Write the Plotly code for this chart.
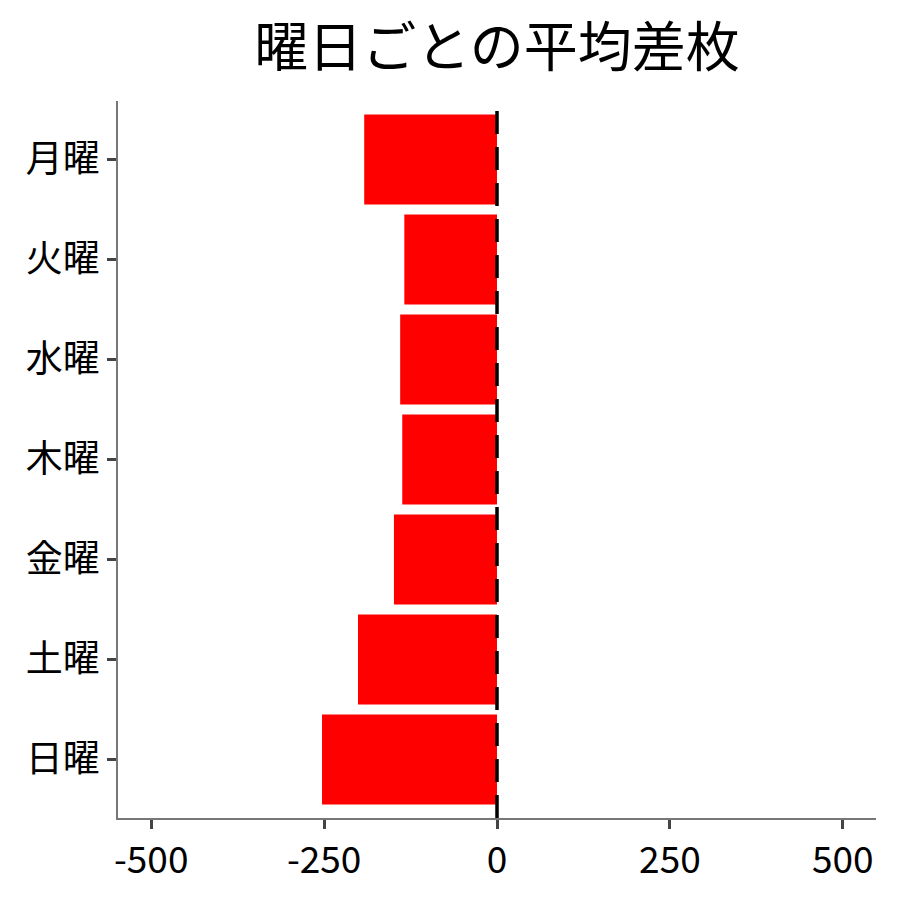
import plotly.graph_objects as go

days = ["月曜", "火曜", "水曜", "木曜", "金曜", "土曜", "日曜"]
avg_diff = [-192, -134, -140, -137, -149, -201, -253]
x_ticks = [-500, -250, 0, 250, 500]
x_tick_labels = ["-500", "-250", "0", "250", "500"]

font_family = "Noto Sans CJK JP"

fig = go.Figure()
fig.add_trace(go.Bar(
    x=avg_diff,
    y=days,
    orientation="h",
    marker=dict(color="#ff0000", line=dict(width=0)),
    width=0.9,
    showlegend=False,
))

fig.add_vline(x=0, line=dict(color="black", width=3.5, dash="23px,13px"), layer="above")

fig.update_layout(
    width=900,
    height=900,
    paper_bgcolor="white",
    plot_bgcolor="white",
    margin=dict(l=110, r=32, t=93, b=90),
    title=dict(
        text="曜日ごとの平均差枚",
        x=0.5,
        xref="paper",
        xanchor="center",
        y=0.956,
        yanchor="middle",
        font=dict(family=font_family, size=54, color="black"),
    ),
    font=dict(family=font_family, color="black"),
    bargap=0.1,
)

fig.update_xaxes(
    range=[-548, 548],
    tickvals=x_ticks,
    ticktext=x_tick_labels,
    showgrid=False,
    zeroline=False,
    showline=True,
    linecolor="#777777",
    linewidth=1.5,
    ticks="outside",
    ticklen=9,
    tickwidth=3,
    tickcolor="#444444",
    tickfont=dict(family=font_family, size=37, color="black"),
)

fig.update_yaxes(
    categoryorder="array",
    categoryarray=days,
    autorange=False,
    range=[6.585, -0.585],
    showgrid=False,
    zeroline=False,
    showline=True,
    linecolor="#777777",
    linewidth=1.5,
    ticks="outside",
    ticklen=9,
    tickwidth=3,
    tickcolor="#444444",
    tickfont=dict(family=font_family, size=37, color="black"),
)

fig.write_html("out.html")
